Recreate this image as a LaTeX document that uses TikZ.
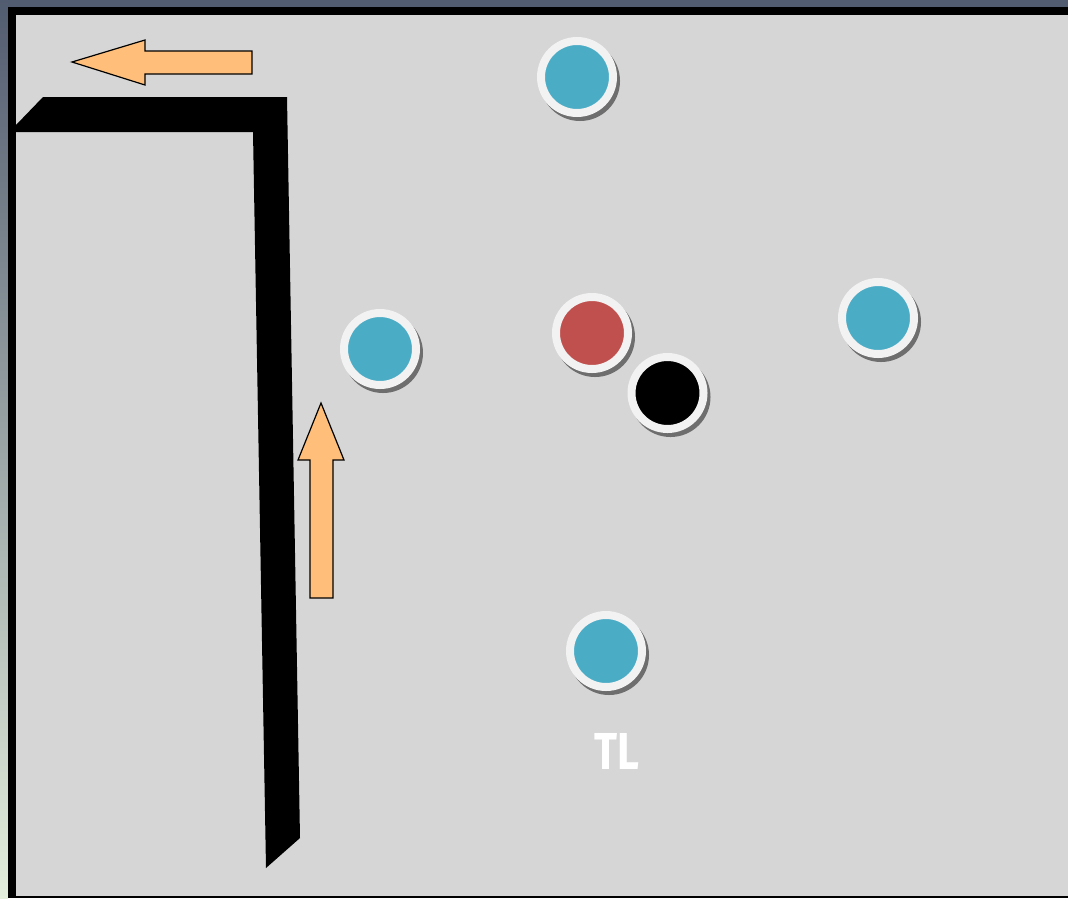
\documentclass[tikz,border=0pt]{standalone}
\usepackage{fontspec}
\setsansfont{Fira Sans}
\newfontfamily\tlfont{Fira Sans Bold}
\definecolor{slate}{HTML}{525C70}
\definecolor{paleedge}{HTML}{E4EEDC}
\definecolor{field}{HTML}{D6D6D6}
\definecolor{ringc}{HTML}{F2F2F2}
\definecolor{shadowc}{HTML}{6E6E6E}
\definecolor{bluec}{HTML}{4BACC6}
\definecolor{redc}{HTML}{C0504D}
\definecolor{arrowc}{HTML}{FFBF7A}
\tikzset{
  ball/.style={circle, minimum size=72pt, inner sep=0pt, outer sep=0pt,
    draw=ringc, line width=8pt,
    preaction={draw=shadowc, fill=shadowc, line width=8pt,
      transform canvas={xshift=3pt, yshift=-4pt}}},
  bigarrow/.style={fill=arrowc, draw=black, line width=1.2pt, line join=miter},
  wall/.style={fill=black},
  label/.style={text=white, font=\tlfont\fontsize{52}{52}\selectfont, inner sep=0pt}
}
\begin{document}
\begin{tikzpicture}[x=1pt, y=-1pt]
\useasboundingbox (0,0) rectangle (1068,898);
% outer frame
\fill[slate] (0,0) rectangle (1068,8);
\shade[top color=slate, bottom color=paleedge] (0,0) rectangle (8,898);
\fill[black] (8,7) rectangle (1068,898);
\fill[field] (16,15) rectangle (1068,896);
% wall
\fill[wall] (16,125) -- (43,97) -- (287,97) -- (300,838) -- (266,868) -- (253,132) -- (16,132) -- cycle;
% arrows
\draw[bigarrow] (72,62) -- (145,40) -- (145,51) -- (252,51) -- (252,74) -- (145,74) -- (145,85) -- cycle;
\draw[bigarrow] (321,403) -- (344,460) -- (333,460) -- (333,598) -- (310,598) -- (310,460) -- (298,460) -- cycle;
% players
\node[ball, fill=bluec] (top) at (577,77) {};
\node[ball, fill=bluec] (left) at (380,349) {};
\node[ball, fill=redc] (red) at (592,333) {};
\node[ball, fill=black] (blk) at (667.5,393) {};
\node[ball, fill=bluec] (right) at (878,318) {};
\node[ball, fill=bluec] (bottom) at (606,651) {};
% label
\node[label] (tl) at (617,751) {\scalebox{0.82}[1]{TL}};
\end{tikzpicture}
\end{document}
